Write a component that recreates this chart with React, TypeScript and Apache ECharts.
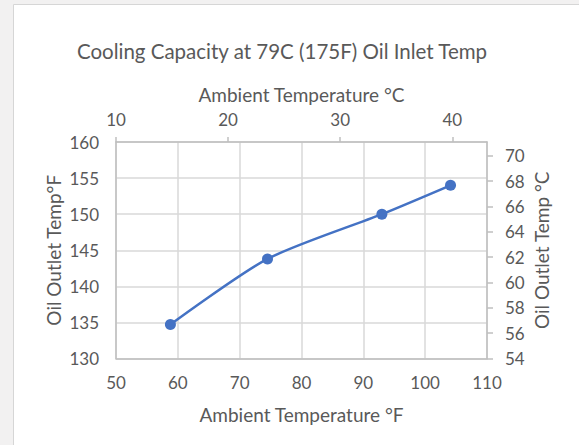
import React, { useEffect, useRef } from "react";
import * as echarts from "echarts";

const titleText = "Cooling Capacity at 79C (175F) Oil Inlet Temp";
const ambientF = [58.8, 74.5, 93.0, 104.1];
const outletF = [134.7, 143.8, 150.0, 154.0];
const topTicksC = [10, 20, 30, 40];
const rightTicksC = [54, 56, 58, 60, 62, 64, 66, 68, 70];

const FONT = "Lato";
const TXT = "#595959";
const GRID = "#d9d9d9";
const AXIS = "#bfbfbf";
const BLUE = "#4472C4";

export default function App() {
  const ref = useRef<HTMLDivElement>(null);
  useEffect(() => {
    if (!ref.current) return;
    const chart = echarts.init(ref.current, undefined, { renderer: "svg" });
    const data = ambientF.map((x, i) => [x, outletF[i]]);
    chart.setOption({
      animation: false,
      backgroundColor: "#f2f1f1",
      textStyle: { fontFamily: FONT },
      graphic: [
        {
          type: "rect",
          shape: { x: 13.5, y: 4.5, width: 700, height: 600 },
          style: { fill: "#ffffff", stroke: "#d6d6d6", lineWidth: 1 },
          z: -10,
          silent: true,
        },
      ],
      title: {
        text: titleText,
        left: 277,
        top: 35,
        textAlign: "center",
        textStyle: { fontFamily: FONT, fontSize: 20.5, fontWeight: "normal", color: TXT },
      },
      grid: { left: 116, right: 92, top: 142, bottom: 86.5, containLabel: false },
      xAxis: [
        {
          type: "value",
          position: "bottom",
          min: 50,
          max: 110,
          interval: 10,
          name: "Ambient Temperature °F",
          nameLocation: "middle",
          nameGap: 46,
          nameMoveOverlap: false,
          nameTextStyle: { fontFamily: FONT, fontSize: 19, color: TXT, verticalAlign: "top" },
          axisLine: { show: true, lineStyle: { color: AXIS, width: 1.5 } },
          axisTick: { show: false },
          axisLabel: { fontFamily: FONT, fontSize: 17, color: TXT, margin: 15 },
          splitLine: { show: true, lineStyle: { color: GRID, width: 1.5 } },
        },
        {
          type: "value",
          position: "top",
          min: 10,
          max: 43.1,
          interval: 10,
          name: "Ambient Temperature °C",
          nameLocation: "middle",
          nameGap: 38,
          nameMoveOverlap: false,
          nameTextStyle: { fontFamily: FONT, fontSize: 19, color: TXT, verticalAlign: "bottom" },
          axisLine: { show: true, lineStyle: { color: AXIS, width: 1.5 } },
          axisTick: { show: true, customValues: topTicksC, length: 5, lineStyle: { color: AXIS, width: 1.5 } },
          axisLabel: { fontFamily: FONT, fontSize: 17, color: TXT, margin: 14, customValues: topTicksC },
          splitLine: { show: false },
        },
      ],
      yAxis: [
        {
          type: "value",
          position: "left",
          min: 130,
          max: 160,
          interval: 5,
          name: "Oil Outlet Temp°F",
          nameLocation: "middle",
          nameRotate: 90,
          nameGap: 53,
          nameMoveOverlap: false,
          nameTextStyle: { fontFamily: FONT, fontSize: 19, color: TXT },
          axisLine: { show: true, lineStyle: { color: AXIS, width: 1.5 } },
          axisTick: { show: false },
          axisLabel: { fontFamily: FONT, fontSize: 17, color: TXT, margin: 17 },
          splitLine: { show: true, lineStyle: { color: GRID, width: 1.5 } },
        },
        {
          type: "value",
          position: "right",
          min: 54,
          max: 71.1,
          interval: 2,
          name: "Oil Outlet Temp °C",
          nameLocation: "middle",
          nameRotate: 90,
          nameGap: 44.5,
          nameMoveOverlap: false,
          nameTextStyle: { fontFamily: FONT, fontSize: 19, color: TXT },
          axisLine: { show: true, lineStyle: { color: AXIS, width: 1.5 } },
          axisTick: { show: true, customValues: rightTicksC, length: 6, lineStyle: { color: AXIS, width: 1.5 } },
          axisLabel: { fontFamily: FONT, fontSize: 17, color: TXT, margin: 18, customValues: rightTicksC },
          splitLine: { show: false },
        },
      ],
      series: [
        {
          type: "line",
          xAxisIndex: 0,
          yAxisIndex: 0,
          data,
          smooth: 0.25,
          symbol: "circle",
          symbolSize: 11,
          showSymbol: true,
          itemStyle: { color: BLUE },
          lineStyle: { color: BLUE, width: 2.5 },
        },
      ],
    });
    return () => chart.dispose();
  }, []);
  return (
    <div
      ref={ref}
      style={{ position: "absolute", left: 0, top: 0, width: 579, height: 445 }}
    />
  );
}
